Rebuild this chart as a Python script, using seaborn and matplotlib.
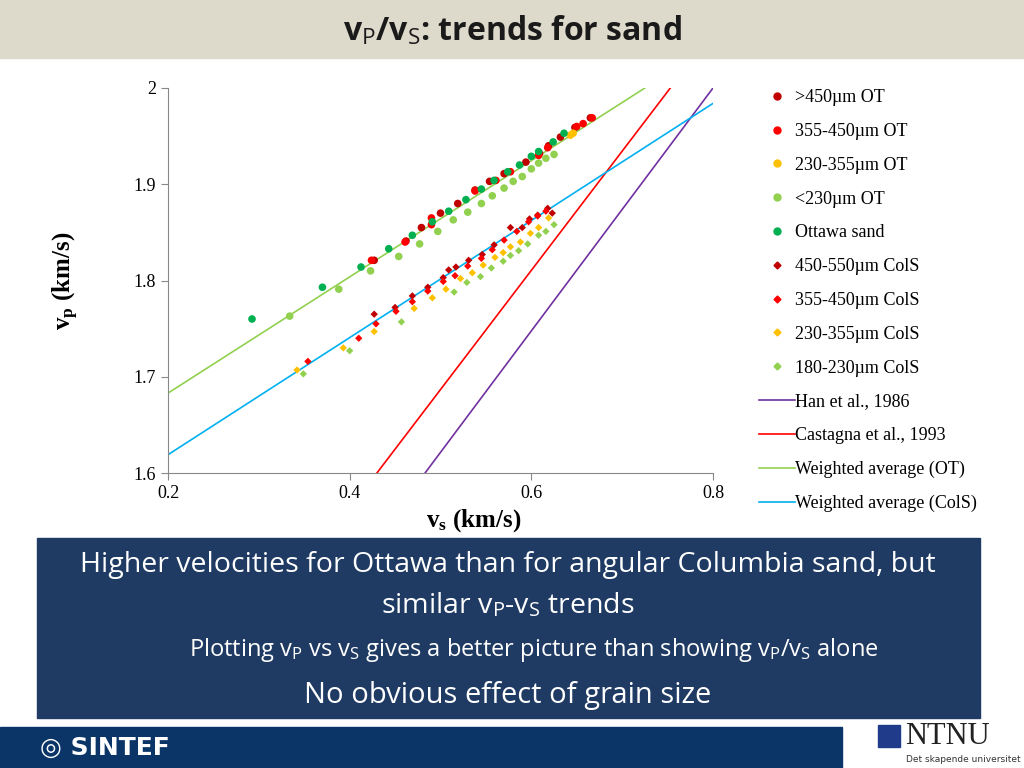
import numpy as np
import pandas as pd
import matplotlib
matplotlib.use("Agg")
import matplotlib.pyplot as plt
from matplotlib.lines import Line2D
from matplotlib.patches import Rectangle
import seaborn as sns

plt.rcParams["mathtext.fontset"] = "custom"
plt.rcParams["mathtext.rm"] = "Liberation Serif"
plt.rcParams["mathtext.bf"] = "Liberation Serif:bold"
plt.rcParams["mathtext.it"] = "Liberation Serif:italic"
plt.rcParams["mathtext.sf"] = "Open Sans"

# ---- data (vs, vp in km/s) ----
ot450_vs = [0.427,0.462,0.479,0.500,0.519,0.538,0.554,0.570,0.594,0.609,0.619,0.632,0.648,0.665]
ot450_vp = [1.821,1.841,1.855,1.870,1.880,1.894,1.903,1.911,1.923,1.932,1.940,1.949,1.959,1.969]
ot355_vs = [0.424,0.461,0.490,0.490,0.538,0.561,0.577,0.608,0.618,0.650,0.657,0.667]
ot355_vp = [1.821,1.840,1.865,1.858,1.893,1.904,1.913,1.930,1.938,1.960,1.963,1.969]
ot230_vs = [0.643,0.646]
ot230_vp = [1.951,1.953]
otl230_vs = [0.334,0.388,0.423,0.454,0.477,0.497,0.514,0.530,0.545,0.557,0.570,0.580,0.590,0.600,0.608,0.616,0.625]
otl230_vp = [1.763,1.791,1.810,1.825,1.838,1.851,1.863,1.871,1.880,1.888,1.896,1.903,1.908,1.916,1.922,1.927,1.931]
ottawa_vs = [0.2925,0.370,0.4125,0.443,0.469,0.491,0.509,0.528,0.545,0.559,0.574,0.587,0.600,0.608,0.624,0.636]
ottawa_vp = [1.760,1.793,1.814,1.833,1.847,1.861,1.872,1.884,1.895,1.904,1.913,1.920,1.929,1.934,1.944,1.953]
c450_vs = [0.427,0.450,0.469,0.486,0.503,0.509,0.517,0.531,0.546,0.559,0.577,0.590,0.598,0.607,0.618,0.623]
c450_vp = [1.765,1.772,1.784,1.793,1.803,1.811,1.814,1.821,1.827,1.837,1.855,1.855,1.864,1.868,1.875,1.870]
c355_vs = [0.354,0.410,0.429,0.451,0.469,0.486,0.503,0.516,0.530,0.545,0.557,0.570,0.584,0.597,0.607,0.616]
c355_vp = [1.716,1.740,1.755,1.768,1.778,1.789,1.799,1.805,1.815,1.823,1.832,1.842,1.851,1.861,1.867,1.872]
c230_vs = [0.342,0.393,0.427,0.471,0.491,0.506,0.522,0.535,0.547,0.560,0.569,0.577,0.588,0.599,0.608,0.619]
c230_vp = [1.707,1.730,1.747,1.771,1.782,1.791,1.802,1.808,1.816,1.824,1.829,1.835,1.840,1.849,1.855,1.865]
c180_vs = [0.349,0.400,0.457,0.515,0.529,0.544,0.556,0.569,0.577,0.586,0.596,0.608,0.616,0.625]
c180_vp = [1.703,1.727,1.757,1.788,1.798,1.804,1.813,1.820,1.826,1.831,1.838,1.847,1.851,1.858]

# trend lines: endpoints (vs, vp)
han_vs, han_vp = [0.483, 0.8], [1.6, 2.0]
cast_vs, cast_vp = [0.430, 0.753], [1.6, 2.0]
wot_vs, wot_vp = [0.2, 0.725], [1.683, 2.0]
wcs_vs, wcs_vp = [0.2, 0.8], [1.619, 1.984]

series = [
    (">450µm OT", ot450_vs, ot450_vp, "#c00000", "o", 30),
    ("355-450µm OT", ot355_vs, ot355_vp, "#ff0000", "o", 30),
    ("230-355µm OT", ot230_vs, ot230_vp, "#ffc000", "o", 30),
    ("<230µm OT", otl230_vs, otl230_vp, "#92d050", "o", 30),
    ("Ottawa sand", ottawa_vs, ottawa_vp, "#00b050", "o", 30),
    ("450-550µm ColS", c450_vs, c450_vp, "#c00000", "D", 14),
    ("355-450µm ColS", c355_vs, c355_vp, "#ff0000", "D", 14),
    ("230-355µm ColS", c230_vs, c230_vp, "#ffc000", "D", 14),
    ("180-230µm ColS", c180_vs, c180_vp, "#92d050", "D", 14),
]
lines = [
    ("Han et al., 1986", han_vs, han_vp, "#7030a0"),
    ("Castagna et al., 1993", cast_vs, cast_vp, "#ff0000"),
    ("Weighted average (OT)", wot_vs, wot_vp, "#92d050"),
    ("Weighted average (ColS)", wcs_vs, wcs_vp, "#00b0f0"),
]

fig = plt.figure(figsize=(10.24, 7.68), dpi=100)
W, H = 1024, 768
def fr(x0, y0, x1, y1):
    return [x0 / W, 1 - y1 / H, (x1 - x0) / W, (y1 - y0) / H]

# slide decorations
fig.patches.append(Rectangle((0, 1 - 58 / H), 1, 58 / H, transform=fig.transFigure, color="#dddacb", zorder=0))
fig.text(0.5, 1 - 32 / H, r"v$_\mathsf{P}$/v$_\mathsf{S}$: trends for sand", ha="center", va="center",
         fontsize=23, fontweight="bold", family="Open Sans", color="#1a1a1a")
fig.patches.append(Rectangle((37 / W, 1 - 718 / H), (980 - 37) / W, 180 / H, transform=fig.transFigure,
                             color="#1f3b63", zorder=0))
tf = dict(ha="center", va="center", color="white", family="Open Sans")
fig.text(508 / W, 1 - 565 / H, "Higher velocities for Ottawa than for angular Columbia sand, but", fontsize=20.5, **tf)
fig.text(508 / W, 1 - 606 / H, r"similar v$_\mathsf{P}$-v$_\mathsf{S}$ trends", fontsize=20.5, **tf)
fig.text(534 / W, 1 - 650 / H, r"Plotting v$_\mathsf{P}$ vs v$_\mathsf{S}$ gives a better picture than showing v$_\mathsf{P}$/v$_\mathsf{S}$ alone", fontsize=17, **tf)
fig.text(508 / W, 1 - 695 / H, "No obvious effect of grain size", fontsize=21, **tf)
fig.patches.append(Rectangle((0, 0), 842 / W, 41 / H, transform=fig.transFigure, color="#0a3566", zorder=0))
fig.text(40 / W, 20 / H, "◎ SINTEF", color="white", fontsize=18, fontweight="bold", family="DejaVu Sans", va="center")
fig.patches.append(Rectangle((878 / W, 21 / H), 22 / W, 22 / H, transform=fig.transFigure, color="#1f3b8a", zorder=1))
fig.text(905 / W, 32 / H, "NTNU", color="#222222", fontsize=22, family="Liberation Serif", va="center")
fig.text(906 / W, 9 / H, "Det skapende universitet", color="#333333", fontsize=6.5, va="center")

ax = fig.add_axes(fr(168, 88, 713, 473))
for lab, xs, ys, c, m, s in series:
    sns.scatterplot(x=xs, y=ys, color=c, marker=m, s=s, edgecolor="none", ax=ax, legend=False, zorder=3)
for lab, xs, ys, c in lines:
    sns.lineplot(x=xs, y=ys, color=c, lw=1.2, ax=ax, legend=False, zorder=2)
ax.set_xlim(0.2, 0.8)
ax.set_ylim(1.6, 2.0)
ax.set_xticks([0.2, 0.4, 0.6, 0.8])
ax.set_yticks([1.6, 1.7, 1.8, 1.9, 2.0])
ax.set_xticklabels(["0.2", "0.4", "0.6", "0.8"])
ax.set_yticklabels(["1.6", "1.7", "1.8", "1.9", "2"])
for sp in ["top", "right"]:
    ax.spines[sp].set_visible(False)
for sp in ["left", "bottom"]:
    ax.spines[sp].set_color("#888888")
ax.tick_params(direction="out", length=5, color="#888888", labelsize=13)
for t in ax.get_xticklabels() + ax.get_yticklabels():
    t.set_family("Liberation Serif")
ax.set_xlabel(r"v$_\mathbf{s}$ (km/s)", fontsize=18, fontweight="bold", family="Liberation Serif")
ax.set_ylabel(r"v$_\mathbf{p}$ (km/s)", fontsize=18, fontweight="bold", family="Liberation Serif")
ax.xaxis.set_label_coords(0.56, -0.09)
ax.yaxis.set_label_coords(-0.16, 0.5)

handles = []
for lab, xs, ys, c, m, s in series:
    handles.append(Line2D([], [], ls="none", marker=m, color=c, markersize=5 if m == "o" else 3.5, label=lab))
for lab, xs, ys, c in lines:
    handles.append(Line2D([], [], color=c, lw=1.2, label=lab))
fig.legend(handles=handles, loc="upper left", bbox_to_anchor=(752 / W, 1 - 82 / H), frameon=False,
           prop={"family": "Liberation Serif", "size": 13}, labelspacing=0.93, handlelength=2.0,
           handletextpad=0.0, borderaxespad=0)

fig.savefig("out.png", dpi=100)
